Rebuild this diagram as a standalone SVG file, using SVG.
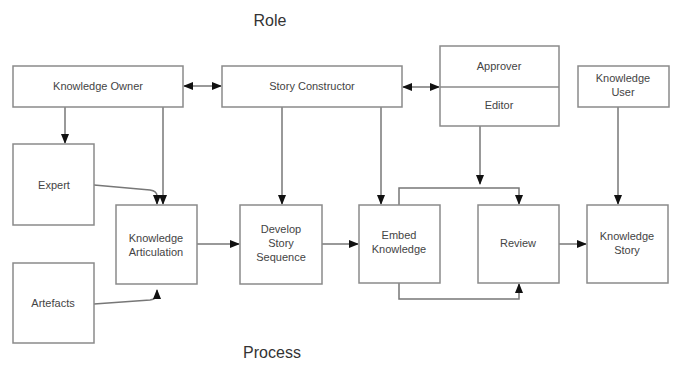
<svg xmlns="http://www.w3.org/2000/svg" width="674" height="385" viewBox="0 0 674 385">
<defs>
<marker id="ah" markerWidth="10" markerHeight="8" refX="9" refY="4" orient="auto" markerUnits="userSpaceOnUse">
<path d="M0,0 L10,4 L0,8 Z" fill="#111"/>
</marker>
<marker id="ahs" markerWidth="10" markerHeight="8" refX="1" refY="4" orient="auto" markerUnits="userSpaceOnUse">
<path d="M10,0 L0,4 L10,8 Z" fill="#111"/>
</marker>
<style>
.box{fill:#fff;stroke:#8a8a8a;stroke-width:1.5}
.t{font-family:"Liberation Sans",Arial,sans-serif;font-size:11px;fill:#444;text-anchor:middle}
.title{font-family:"Liberation Sans",Arial,sans-serif;font-size:16px;fill:#333;text-anchor:middle}
.c{fill:none;stroke:#777;stroke-width:1.5}
</style>
</defs>
<rect width="674" height="385" fill="#fff"/>
<text class="title" x="270" y="26">Role</text>
<text class="title" x="272" y="358">Process</text>

<g id="connectors">
<line class="c" x1="184" y1="86" x2="221" y2="86" marker-start="url(#ahs)" marker-end="url(#ah)"/>
<line class="c" x1="403" y1="87" x2="439" y2="87" marker-start="url(#ahs)" marker-end="url(#ah)"/>
<line class="c" x1="65" y1="107" x2="65" y2="143" marker-end="url(#ah)"/>
<line class="c" x1="163" y1="107" x2="163" y2="204" marker-end="url(#ah)"/>
<path class="c" d="M94,185 L150,190 Q157,191 157,196 L157,204" marker-end="url(#ah)"/>
<path class="c" d="M94,304 L150,300 Q157,299 157,294 L157,290" marker-end="url(#ah)"/>
<line class="c" x1="197" y1="244" x2="239" y2="244" marker-end="url(#ah)"/>
<line class="c" x1="282" y1="107" x2="282" y2="204" marker-end="url(#ah)"/>
<line class="c" x1="322" y1="244" x2="358" y2="244" marker-end="url(#ah)"/>
<line class="c" x1="381" y1="107" x2="381" y2="204" marker-end="url(#ah)"/>
<line class="c" x1="480" y1="126" x2="480" y2="184" marker-end="url(#ah)"/>
<path class="c" d="M399,205 L399,188 L519,188 L519,204" marker-end="url(#ah)"/>
<path class="c" d="M399,283 L399,299 L519,299 L519,284" marker-end="url(#ah)"/>
<line class="c" x1="559" y1="244" x2="586" y2="244" marker-end="url(#ah)"/>
<line class="c" x1="618" y1="107" x2="618" y2="204" marker-end="url(#ah)"/>
</g>

<g id="knowledge-owner"><rect class="box" x="13" y="66" width="170" height="41"/><text class="t" x="98" y="90">Knowledge Owner</text></g>
<g id="story-constructor"><rect class="box" x="222" y="66" width="180" height="41"/><text class="t" x="312" y="90">Story Constructor</text></g>
<g id="approver-editor"><rect class="box" x="440" y="46" width="119" height="80"/><line class="box" x1="440" y1="87" x2="559" y2="87"/><text class="t" x="499" y="70">Approver</text><text class="t" x="499" y="109">Editor</text></g>
<g id="knowledge-user"><rect class="box" x="578" y="66" width="91" height="41"/><text class="t" x="623" y="82">Knowledge</text><text class="t" x="623" y="96">User</text></g>
<g id="expert"><rect class="box" x="13" y="144" width="81" height="81"/><text class="t" x="54" y="189">Expert</text></g>
<g id="artefacts"><rect class="box" x="13" y="263" width="81" height="80"/><text class="t" x="53" y="307">Artefacts</text></g>
<g id="knowledge-articulation"><rect class="box" x="116" y="205" width="81" height="79"/><text class="t" x="156" y="242">Knowledge</text><text class="t" x="156" y="256">Articulation</text></g>
<g id="develop-story-sequence"><rect class="box" x="240" y="205" width="82" height="79"/><text class="t" x="281" y="233">Develop</text><text class="t" x="281" y="247">Story</text><text class="t" x="281" y="261">Sequence</text></g>
<g id="embed-knowledge"><rect class="box" x="359" y="205" width="81" height="78"/><text class="t" x="399" y="239">Embed</text><text class="t" x="399" y="253">Knowledge</text></g>
<g id="review"><rect class="box" x="478" y="205" width="81" height="78"/><text class="t" x="518" y="247">Review</text></g>
<g id="knowledge-story"><rect class="box" x="587" y="205" width="81" height="78"/><text class="t" x="627" y="240">Knowledge</text><text class="t" x="627" y="254">Story</text></g>
</svg>
